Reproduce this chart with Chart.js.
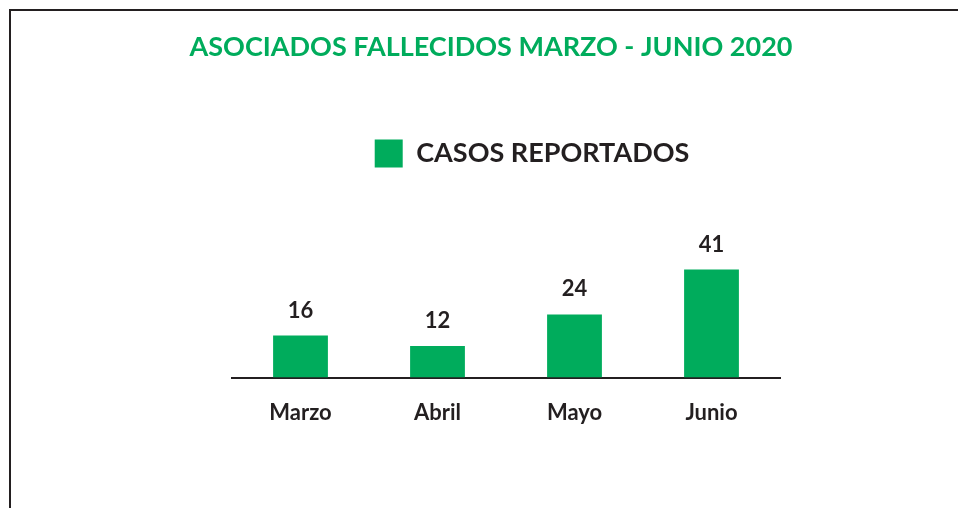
<!DOCTYPE html>
<html>
<head>
<meta charset="utf-8">
<script src="https://cdn.jsdelivr.net/npm/chart.js@4"></script>
<style>
  html, body { margin: 0; padding: 0; background: #fff; }
  #wrap { position: relative; width: 958px; height: 508px; overflow: hidden; }
  #frame { position: absolute; left: 9px; top: 9px; width: 2000px; height: 2000px;
           border-top: 2px solid #231f20; border-left: 2px solid #231f20; box-sizing: border-box; }
  canvas { position: absolute; left: 0; top: 0; }
</style>
</head>
<body>
<div id="wrap">
  <div id="frame"></div>
  <canvas id="fallecidos" width="958" height="508"></canvas>
</div>
<script>
/* ASOCIADOS FALLECIDOS - datos */
const labelarray = ['Marzo', 'Abril', 'Mayo', 'Junio'];
const datapointarray_casos = [16, 12, 24, 41];
const seriesLabel = 'CASOS REPORTADOS';
const titleText = 'ASOCIADOS FALLECIDOS MARZO - JUNIO 2020';

const verde = '#00ac5c';
const oscuro = '#231f20';

// move title / legend so they sit where the original has them
// (title box made wider, otherwise the text gets squeezed to the chart width)
const shiftBoxes = {
    id: 'shiftBoxes',
    afterLayout(chart) {
        const t = chart.titleBlock;
        if (t) { t.left = 111; t.right = 871; t.width = 760; }
        const l = chart.legend;
        if (l) { l.left += 26; l.right += 26; }
    }
};

// value labels over the bars
const valueLabels = {
    id: 'valueLabels',
    afterDatasetsDraw(chart) {
        const ctx = chart.ctx;
        const meta = chart.getDatasetMeta(0);
        ctx.save();
        ctx.font = 'bold 22px Lato';
        ctx.fillStyle = oscuro;
        ctx.textAlign = 'center';
        ctx.textBaseline = 'middle';
        meta.data.forEach(function(bar, i) {
            ctx.fillText(chart.data.datasets[0].data[i], bar.x, bar.y - 25);
        });
        ctx.restore();
    }
};

const ctx_fallecidos = document.getElementById('fallecidos').getContext('2d');
const barChart = new Chart(ctx_fallecidos, {
    type: 'bar',
    data: {
        labels: labelarray,
        datasets: [{
            label: seriesLabel,
            data: datapointarray_casos,
            backgroundColor: verde,
            borderWidth: 0,
            barPercentage: 0.4,
            categoryPercentage: 1
        }]
    },
    options: {
        responsive: false,
        animation: false,
        devicePixelRatio: 1,
        layout: {
            padding: { top: 10, left: 232, right: 178, bottom: 60 }
        },
        plugins: {
            title: {
                display: true,
                text: titleText,
                color: verde,
                font: { family: 'Lato', size: 27, weight: 'bold', lineHeight: 1.2 },
                padding: { top: 21, bottom: 66 }
            },
            legend: {
                display: true,
                labels: {
                    color: oscuro,
                    boxWidth: 28,
                    boxHeight: 28,
                    padding: 10,
                    font: { family: 'Lato', size: 27, weight: 'bold' }
                }
            },
            tooltip: { enabled: false }
        },
        scales: {
            x: {
                grid: { display: false, drawTicks: false },
                border: { display: true, color: oscuro, width: 2 },
                ticks: {
                    color: oscuro,
                    padding: 22,
                    font: { family: 'Lato', size: 22, weight: 'bold' }
                }
            },
            y: {
                display: false,
                beginAtZero: true,
                min: 0,
                max: 76
            }
        }
    },
    plugins: [shiftBoxes, valueLabels]
});
</script>
</body>
</html>
